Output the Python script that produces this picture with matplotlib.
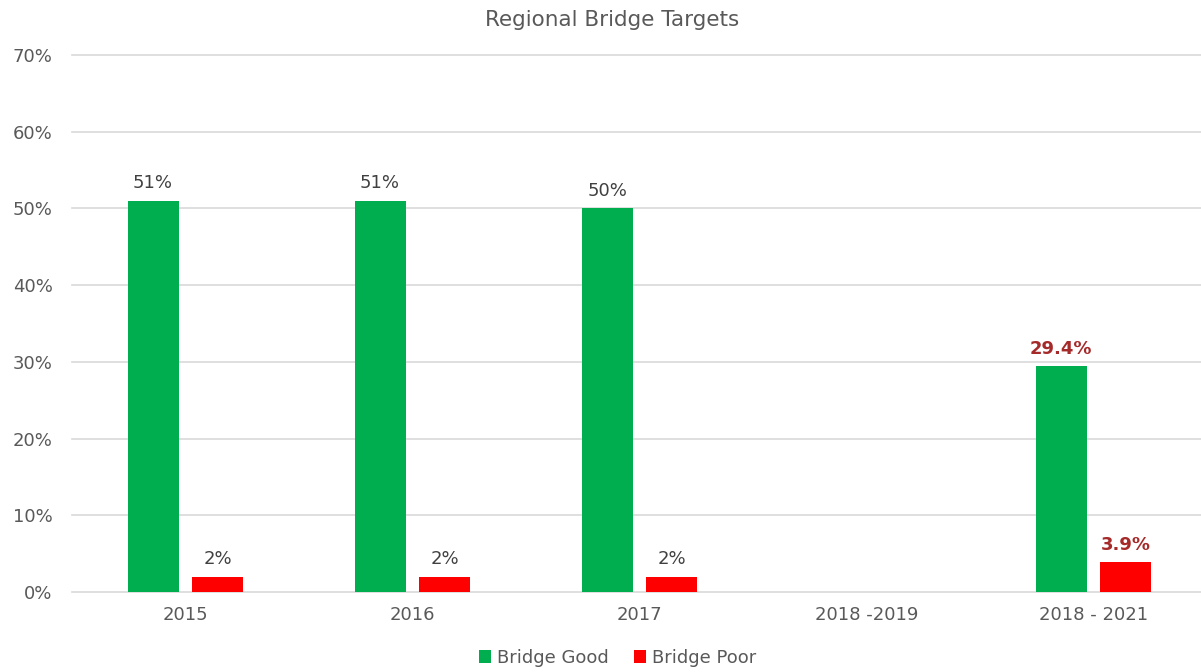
import matplotlib.pyplot as plt
import numpy as np

# Chart data
categories = ['2015', '2016', '2017', '2018 -2019', '2018 - 2021']
bridge_good = [0.51, 0.51, 0.50, np.nan, 0.294]
bridge_poor = [0.02, 0.02, 0.02, np.nan, 0.039]
good_labels = ['51%', '51%', '50%', '', '29.4%']
poor_labels = ['2%', '2%', '2%', '', '3.9%']
label_colors = ['#404040', '#404040', '#404040', '#404040', '#A52A2A']
yticks = [0, 0.1, 0.2, 0.3, 0.4, 0.5, 0.6, 0.7]

plt.rcParams['font.family'] = ['DejaVu Sans']
grey = '#595959'

fig = plt.figure(figsize=(12.01, 6.72), dpi=100)
ax = fig.add_axes([72 / 1201, 80 / 672, 1135 / 1201, 537 / 672])

x = np.arange(len(categories))
w = 0.225
off = 0.143
b1 = ax.bar(x - off, bridge_good, w, color='#00AD4F', label='Bridge Good', zorder=3)
b2 = ax.bar(x + off, bridge_poor, w, color='#FF0000', label='Bridge Poor', zorder=3)

for i in range(len(categories)):
    bold = 'bold' if label_colors[i] != '#404040' else 'normal'
    if good_labels[i]:
        ax.annotate(good_labels[i], (x[i] - off, bridge_good[i]), xytext=(0, 6),
                    textcoords='offset points', ha='center', va='bottom',
                    fontsize=13, color=label_colors[i], fontweight=bold)
    if poor_labels[i]:
        ax.annotate(poor_labels[i], (x[i] + off, bridge_poor[i]), xytext=(0, 6),
                    textcoords='offset points', ha='center', va='bottom',
                    fontsize=13, color=label_colors[i], fontweight=bold)

ax.set_xlim(-0.5, len(categories) - 0.5)
ax.set_ylim(0, 0.7)
ax.set_yticks(yticks)
ax.set_yticklabels([f'{int(round(t * 100))}%' for t in yticks])
ax.set_xticks(x)
ax.set_xticklabels(categories)
ax.tick_params(axis='both', length=0, labelsize=13, labelcolor=grey)
ax.tick_params(axis='y', pad=14)
ax.tick_params(axis='x', pad=10)
ax.grid(axis='y', color='#D9D9D9', linewidth=1.2, zorder=0)
for gl in ax.get_ygridlines():
    gl.set_clip_on(False)
for s in ax.spines.values():
    s.set_visible(False)

fig.suptitle('Regional Bridge Targets', x=0.51, y=0.985, fontsize=15.5, color=grey)
fig.legend(handles=[b1, b2], loc='lower center', bbox_to_anchor=(0.514, -0.016),
           ncol=2, frameon=False, fontsize=13, labelcolor=grey,
           handlelength=0.7, handleheight=0.7, handletextpad=0.3, columnspacing=1.4)

fig.savefig('out.png', dpi=100)
